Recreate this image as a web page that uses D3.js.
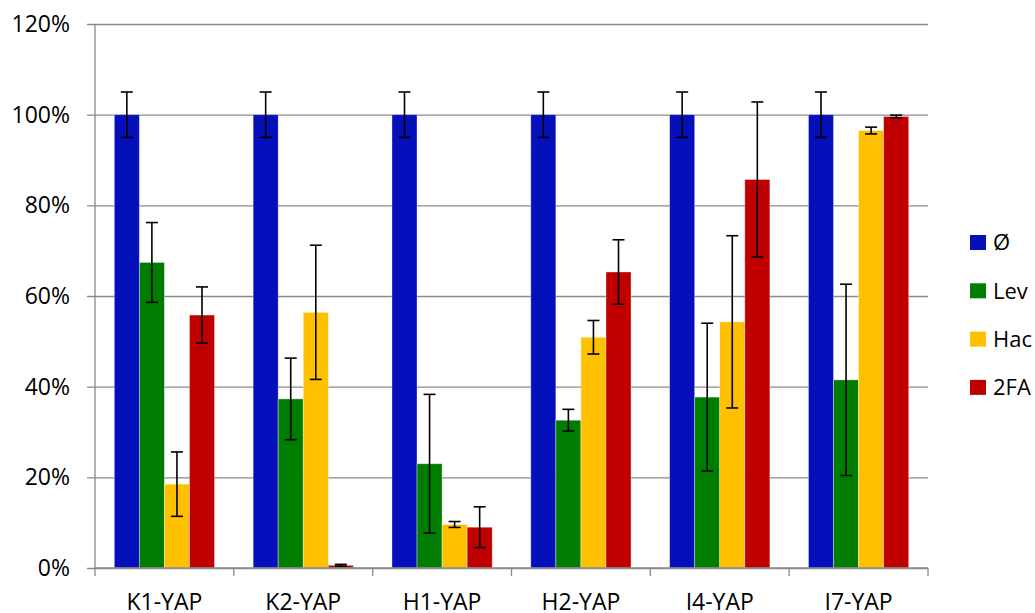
<!DOCTYPE html>
<html>
<head>
<meta charset="utf-8">
<script src="https://cdn.jsdelivr.net/npm/d3@7"></script>
<style>
  body { margin: 0; background: #fff; }
  svg { display: block; font-family: "Open Sans", sans-serif; }
</style>
</head>
<body>
<main></main>
<script>
const categories = ['K1-YAP', 'K2-YAP', 'H1-YAP', 'H2-YAP', 'I4-YAP', 'I7-YAP'];
const seriesNames = ['Ø', 'Lev', 'Hac', '2FA'];
const colors = ['#0510BA', '#007D00', '#FFC000', '#C00000'];
const yTicks = [0, 20, 40, 60, 80, 100, 120];

const valNone = [100, 100, 100, 100, 100, 100];
const errNone = [5, 5, 5, 5, 5, 5];
const valLev = [67.4, 37.3, 23.0, 32.6, 37.7, 41.5];
const errLev = [8.8, 9.0, 15.3, 2.4, 16.3, 21.1];
const valHac = [18.5, 56.4, 9.6, 50.9, 54.3, 96.5];
const errHac = [7.1, 14.8, 0.65, 3.7, 19.0, 0.75];
const val2FA = [55.8, 0.6, 9.0, 65.3, 85.7, 99.6];
const err2FA = [6.2, 0.2, 4.5, 7.1, 17.1, 0.3];

const values = [valNone, valLev, valHac, val2FA];
const errors = [errNone, errLev, errHac, err2FA];

const w = 1035, h = 613;
const padLeft = 95, padRight = 928, padTop = 24, padBottom = 568;
const grey = '#8a8a8a';

const svg = d3.select('main').append('svg').attr('width', w).attr('height', h);

const x0 = d3.scaleBand().domain(categories).range([padLeft, padRight]).padding(0);
const bw = x0.bandwidth();
const x1 = d3.scaleBand().domain(seriesNames).range([bw * 0.139, bw * 0.861]).padding(0);
const y = d3.scaleLinear().domain([0, 120]).range([padBottom, padTop]);

// gridlines + y labels
const yAxis = d3.axisLeft(y).tickValues(yTicks).tickFormat(d => d + '%')
    .tickSize(-(padRight - padLeft)).tickPadding(25);
const gy = svg.append('g').attr('transform', `translate(${padLeft},0)`).call(yAxis);
gy.select('.domain').remove();
gy.selectAll('.tick line').attr('x1', -8).attr('stroke', grey).attr('stroke-width', 1.3);
gy.selectAll('.tick text').attr('font-size', 23).attr('fill', '#000')
    .attr('font-family', '"Open Sans", sans-serif');

svg.append('line').attr('x1', padLeft).attr('x2', padLeft).attr('y1', padTop).attr('y2', padBottom)
    .attr('stroke', grey).attr('stroke-width', 1.3);

// bars
const rows = [];
categories.forEach((c, i) => {
    seriesNames.forEach((s, j) => {
        rows.push({c, s, j, v: values[j][i], e: errors[j][i]});
    });
});

svg.append('g').selectAll('rect').data(rows).enter().append('rect')
    .attr('x', d => x0(d.c) + x1(d.s))
    .attr('width', x1.bandwidth())
    .attr('y', d => y(d.v))
    .attr('height', d => y(0) - y(d.v))
    .attr('fill', d => colors[d.j])
    .attr('stroke', '#ffffff')
    .attr('stroke-opacity', 0.45)
    .attr('stroke-width', 0.8);

// x axis
const xAxis = d3.axisBottom(x0).tickSize(0).tickPadding(26);
const gx = svg.append('g').attr('transform', `translate(0,${padBottom})`).call(xAxis);
gx.select('.domain').attr('stroke', grey).attr('stroke-width', 1.3).attr('d', `M${padLeft},0H${padRight}`);
gx.selectAll('.tick text').attr('font-size', 23).attr('fill', '#000')
    .attr('font-family', '"Open Sans", sans-serif');
const bounds = categories.map(c => x0(c)).concat([padRight]);
gx.selectAll('.bound').data(bounds).enter().append('line')
    .attr('x1', d => d).attr('x2', d => d).attr('y1', 0).attr('y2', 8)
    .attr('stroke', grey).attr('stroke-width', 1.3);

// error bars
const eb = svg.append('g').attr('stroke', '#000').attr('stroke-width', 1.6);
const cx = d => x0(d.c) + x1(d.s) + x1.bandwidth() / 2;
eb.selectAll('line.v').data(rows).enter().append('line')
    .attr('x1', cx).attr('x2', cx)
    .attr('y1', d => y(d.v + d.e)).attr('y2', d => y(d.v - d.e));
eb.selectAll('line.t').data(rows).enter().append('line')
    .attr('x1', d => cx(d) - 6).attr('x2', d => cx(d) + 6)
    .attr('y1', d => y(d.v + d.e)).attr('y2', d => y(d.v + d.e));
eb.selectAll('line.b').data(rows).enter().append('line')
    .attr('x1', d => cx(d) - 6).attr('x2', d => cx(d) + 6)
    .attr('y1', d => y(d.v - d.e)).attr('y2', d => y(d.v - d.e));

// legend
const legend = svg.append('g').attr('transform', 'translate(970,235)');
const items = legend.selectAll('g').data(seriesNames).enter().append('g')
    .attr('transform', (d, i) => `translate(0,${i * 48.3})`);
items.append('rect').attr('width', 16).attr('height', 15).attr('fill', (d, i) => colors[i]);
items.append('text').attr('x', 23).attr('y', 7.5).attr('dy', '0.35em')
    .attr('font-size', 22).text(d => d);
</script>
</body>
</html>
